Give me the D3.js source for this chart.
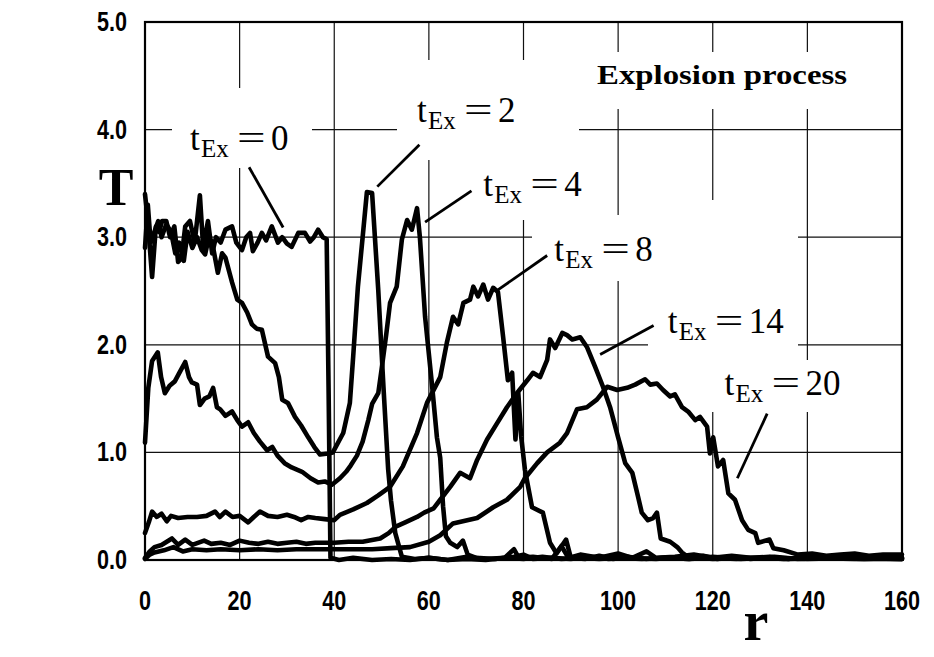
<!DOCTYPE html>
<html>
<head>
    <meta charset="UTF-8">
    <title>Explosion process</title>
    <style>
        body { margin: 0; padding: 0; background: #fff; }
        svg { display: block; }
        .grid line { stroke: #111; stroke-width: 1.2; }
        .tick { font-family: "Liberation Sans", Arial, sans-serif; font-weight: bold; font-size: 27px; fill: #000; }
        .serif { font-family: "Liberation Serif", "Times New Roman", serif; fill: #000; }
    </style>
    <script src="https://d3js.org/d3.v7.min.js"></script>
</head>
<body>
<div id="chart"></div>
<script>
    // r ticks and T ticks
    var rTicks = [0, 20, 40, 60, 80, 100, 120, 140, 160];
    var tTicks = [0, 1, 2, 3, 4, 5];

    // series, [r, T]
    var tEx0 = [[0,3.4],[0.5,3.2],[1.5,2.63],[2.3,3.1],[3,3.05],[3.6,3.15],[4.5,3.15],[5.3,3.0],[6.2,3.1],[7,2.77],[7.7,2.8],
        [8.5,3.1],[9.5,3.15],[10.5,2.95],[11.6,3.39],[12.3,2.9],[13.3,3.15],[14.2,2.85],[15,3.0],[16,2.95],[17,3.07],
        [18.4,3.1],[19.3,2.95],[20.5,2.88],[21.4,3.0],[22.2,3.04],[22.8,2.87],[23.8,2.95],[24.7,3.04],[25.6,2.97],
        [26.8,3.1],[28.1,2.95],[29,3.0],[30,2.94],[31,2.91],[32.4,3.04],[33.8,3.04],[34.9,2.96],[35.7,3.0],[36.6,3.07],
        [37.6,3.0],[38.4,2.98],[38.8,1.6],[39.2,0.02],[41,0],[44,0.02],[48,0],[52,0.01],[56,0],[60,0.02],[64,0],
        [68,0.01],[72,0],[76,0.02],[78,0.1],[79,0.02],[82,0.03],[86,0.01],[88,0.13],[89.5,0.02],[92,0.05],[96,0.02],
        [100,0.06],[103,0.02],[106,0.08],[108,0.02],[112,0.03],[116,0.05],[120,0.02],[124,0.04],[128,0.02],[132,0.03],
        [136,0.01],[140,0.03],[144,0.02],[148,0.03],[152,0.02],[156,0.03],[160,0.02]];

    var tEx2 = [[0,2.9],[0.6,3.3],[1.2,2.95],[2,3.05],[2.8,3.15],[3.5,3.0],[4.5,3.12],[5.5,3.05],[6.4,2.85],[7.2,2.95],
        [8.2,2.78],[9,3.05],[10,2.9],[11,3.0],[12,2.88],[12.7,2.84],[13.5,3.0],[14.2,2.95],[15.4,2.67],[16.3,2.85],
        [17,2.81],[18.4,2.58],[19.5,2.42],[20.5,2.39],[21.6,2.3],[22.6,2.19],[23.6,2.15],[24.7,2.14],[26,1.89],
        [27.5,1.83],[28.3,1.7],[29,1.49],[30.2,1.46],[31.7,1.33],[33,1.25],[34.5,1.14],[35.8,1.05],[37,0.98],
        [38.7,0.99],[39.7,1.0],[41.9,1.18],[43.3,1.46],[44,1.89],[45,2.54],[46,3.0],[46.9,3.42],[48,3.41],[49.3,2.51],
        [50.4,1.61],[51.4,0.84],[52,0.55],[52.9,0.25],[54.3,0.03],[57,0.01],[60,0.02],[64,0],[68,0.03],[72,0.01],
        [76,0.02],[80,0.01],[84,0.03],[88,0.01],[92,0.02],[96,0.01],[100,0.02],[105,0.01],[110,0.02],[115,0.01],
        [120,0.02],[125,0.01],[130,0.02],[135,0.01],[140,0.02],[150,0.01],[160,0.01]];

    var tEx4 = [[0,1.09],[0.7,1.6],[1.5,1.85],[2.7,1.93],[3.4,1.7],[4.2,1.55],[5.2,1.62],[6.3,1.66],[7.4,1.75],
        [8.5,1.84],[9.3,1.7],[9.9,1.65],[11,1.63],[11.6,1.44],[12.6,1.5],[13.6,1.52],[14.4,1.6],[15.2,1.42],[15.9,1.40],
        [17,1.34],[18.4,1.38],[19.5,1.3],[20.5,1.24],[21.8,1.28],[23,1.18],[24.3,1.1],[25.8,1.02],[26.9,1.05],[28,0.97],
        [29.5,0.9],[31,0.86],[33.2,0.82],[35,0.76],[36.6,0.72],[38,0.73],[39.5,0.7],[41.2,0.76],[42.5,0.82],[43.5,0.88],
        [44.8,0.97],[46,1.1],[47.2,1.3],[48,1.45],[49.3,1.55],[50,1.77],[51,2.1],[51.8,2.39],[53.2,2.54],[54.3,2.98],
        [55.4,3.16],[56.4,3.07],[57.5,3.27],[58.1,3.0],[59.2,2.26],[60.7,1.61],[61.7,1.14],[62.4,0.95],[63,0.5],
        [63.6,0.22],[64.5,0.16],[66,0.12],[67.2,0.18],[68.2,0.05],[70,0.02],[74,0.01],[78,0.03],[80,0.05],[82,0.01],
        [86,0.02],[90,0.01],[94,0.03],[98,0.01],[102,0.02],[108,0.01],[114,0.03],[120,0.01],[128,0.02],[136,0.01],
        [146,0.02],[160,0.01]];

    var tEx8 = [[0,0.25],[0.8,0.35],[1.5,0.45],[2.5,0.4],[3.5,0.43],[4.6,0.36],[5.5,0.41],[7,0.39],[9,0.4],[11,0.4],
        [13,0.41],[14.8,0.45],[15.8,0.4],[17,0.45],[18.5,0.4],[20,0.41],[21.8,0.35],[23,0.4],[24.3,0.45],[26,0.41],
        [28,0.4],[30,0.42],[31.5,0.4],[33,0.37],[34.5,0.4],[36,0.39],[38,0.38],[40,0.37],[41.2,0.42],[44,0.47],
        [46.9,0.53],[49.3,0.6],[51.8,0.68],[54.5,0.87],[57.5,1.18],[59.6,1.46],[62.4,1.7],[63.8,2.02],[65.1,2.26],
        [66.2,2.19],[67.3,2.39],[68.7,2.42],[69.4,2.54],[70.4,2.45],[71.5,2.56],[72.5,2.42],[73.6,2.53],[74.6,2.49],
        [75.7,2.07],[76.7,1.67],[77.6,1.74],[78.3,1.12],[78.9,1.55],[79.5,1.15],[80.3,0.84],[81.8,0.49],[84.1,0.44],
        [85.6,0.16],[87,0.06],[89,0.19],[90,0.02],[93,0.01],[96,0.04],[99,0.01],[102,0.03],[106,0.01],[110,0.02],
        [115,0.01],[120,0.03],[126,0.01],[132,0.02],[140,0.01],[150,0.02],[160,0.01]];

    var tEx14 = [[0,0.02],[1,0.08],[2,0.12],[3.5,0.14],[5.7,0.2],[7,0.14],[8.5,0.19],[10,0.14],[12.5,0.18],[14,0.15],
        [16,0.16],[18,0.14],[20,0.18],[22,0.16],[24,0.15],[26,0.17],[28,0.15],[30,0.16],[32,0.17],[34,0.15],[36,0.16],
        [38,0.16],[40,0.16],[43,0.17],[46,0.17],[49.7,0.2],[51.5,0.25],[53,0.31],[55,0.35],[57.5,0.4],[59,0.44],
        [61,0.48],[62.4,0.56],[64.5,0.68],[66.6,0.81],[68.7,0.76],[70.2,0.93],[72.3,1.12],[74.4,1.27],[76.5,1.42],
        [78.6,1.55],[80.8,1.67],[82,1.74],[83.5,1.7],[85,1.86],[85.6,2.05],[86.7,1.97],[88.2,2.11],[89.2,2.09],
        [90.3,2.05],[92,2.07],[93.4,1.98],[95.1,1.8],[96.8,1.61],[98.3,1.42],[100,1.14],[101.5,0.9],[103,0.81],
        [104.2,0.59],[105,0.44],[106.3,0.37],[107.4,0.39],[108.2,0.44],[109,0.2],[111,0.17],[112.5,0.12],[113.5,0.07],
        [115,0.02],[118,0.04],[121,0.01],[124,0.03],[128,0.01],[133,0.03],[138,0.01],[145,0.02],[152,0.01],[160,0.02]];

    var tEx20 = [[0,0.01],[1,0.05],[2,0.07],[4,0.09],[6,0.12],[8,0.08],[10,0.1],[13,0.09],[16,0.1],[20,0.09],
        [24,0.1],[28,0.09],[32,0.1],[36,0.1],[40,0.1],[44,0.1],[48,0.1],[52,0.11],[56,0.12],[60,0.17],[62.4,0.23],
        [65.1,0.34],[70.2,0.39],[73.6,0.49],[76.5,0.56],[79.3,0.68],[80.3,0.76],[82.9,0.9],[85,1.0],[87.7,1.09],
        [89.2,1.18],[91.3,1.4],[93.4,1.42],[95.5,1.49],[97.7,1.61],[99.8,1.58],[101.9,1.6],[103.6,1.63],[105.7,1.68],
        [106.8,1.63],[108.2,1.64],[109.5,1.58],[111,1.52],[112,1.54],[113.5,1.42],[114.8,1.38],[116.3,1.3],[117.3,1.33],
        [118.8,1.24],[119.4,0.99],[120.1,1.14],[121.1,0.87],[122.2,0.93],[123.3,0.62],[124.7,0.56],[126.2,0.37],
        [127.5,0.28],[129,0.25],[129.6,0.16],[132,0.19],[132.8,0.11],[135,0.09],[138,0.05],[141,0.06],[144,0.04],
        [147,0.05],[150,0.06],[153,0.04],[156,0.05],[160,0.05]];

    var seriesNames = ["0", "2", "4", "8", "14", "20"];
    var seriesData = [tEx0, tEx2, tEx4, tEx8, tEx14, tEx20];

    // label anchor (r,T of text start), leader line ends in data units
    var labelPos = [[9.5, 3.81], [57.5, 4.07], [71.5, 3.38], [86.5, 2.78], [110.5, 2.11], [122.5, 1.53]];
    var leaderFrom = [[22, 3.65], [58, 3.86], [69, 3.43], [85, 2.83], [107.5, 2.18], [131.5, 1.36]];
    var leaderTo = [[29.2, 3.09], [49.1, 3.47], [59.2, 3.14], [74.6, 2.51], [96.2, 1.91], [125.2, 0.76]];

    var W = 934, H = 657;
    var x = d3.scaleLinear().domain([0, 160]).range([145, 902]);
    var y = d3.scaleLinear().domain([0, 5]).range([560, 22]);

    var svg = d3.select("#chart").append("svg")
        .attr("width", W)
        .attr("height", H);

    svg.append("rect").attr("width", W).attr("height", H).attr("fill", "#fff");

    // grid
    var grid = svg.append("g").attr("class", "grid");
    grid.selectAll(".gx").data(rTicks.slice(1, -1)).enter().append("line")
        .attr("x1", function(d) { return x(d); }).attr("x2", function(d) { return x(d); })
        .attr("y1", y(0)).attr("y2", y(5));
    grid.selectAll(".gy").data(tTicks.slice(1, -1)).enter().append("line")
        .attr("x1", x(0)).attr("x2", x(160))
        .attr("y1", function(d) { return y(d); }).attr("y2", function(d) { return y(d); });

    // white patches that break the grid behind the labels (pixel boxes)
    var patches = [[172, 88, 140, 80], [397, 60, 182, 100], [470, 160, 110, 60], [532, 215, 196, 66],
        [648, 200, 150, 160], [706, 360, 150, 52], [590, 52, 272, 57]];
    svg.selectAll(".patch").data(patches).enter().append("rect")
        .attr("x", function(d) { return d[0]; }).attr("y", function(d) { return d[1]; })
        .attr("width", function(d) { return d[2]; }).attr("height", function(d) { return d[3]; })
        .attr("fill", "#fff");

    // frame
    svg.append("rect")
        .attr("x", x(0)).attr("y", y(5))
        .attr("width", x(160) - x(0)).attr("height", y(0) - y(5))
        .attr("fill", "none").attr("stroke", "#000").attr("stroke-width", 2.2);

    // curves
    var line = d3.line()
        .x(function(d) { return x(d[0]); })
        .y(function(d) { return y(d[1]); });

    svg.selectAll(".curve").data(seriesData).enter().append("path")
        .attr("class", "curve")
        .attr("fill", "none")
        .attr("stroke", "#000")
        .attr("stroke-width", 4.6)
        .attr("stroke-linejoin", "round")
        .attr("stroke-linecap", "round")
        .attr("d", line);

    // tick labels
    svg.selectAll(".ylab").data(tTicks).enter().append("text")
        .attr("class", "tick")
        .attr("text-anchor", "end")
        .attr("transform", function(d) { return "translate(127," + (y(d) + 9) + ") scale(0.8,1)"; })
        .text(function(d) { return d.toFixed(1); });

    svg.selectAll(".xlab").data(rTicks).enter().append("text")
        .attr("class", "tick")
        .attr("text-anchor", "middle")
        .attr("transform", function(d) { return "translate(" + x(d) + ",610) scale(0.8,1)"; })
        .text(function(d) { return d; });

    // axis titles
    svg.append("text").attr("class", "serif")
        .attr("x", 116).attr("y", 205)
        .attr("text-anchor", "middle")
        .attr("font-size", 52).attr("font-weight", "bold")
        .text("T");
    svg.append("text").attr("class", "serif")
        .attr("x", 756).attr("y", 640)
        .attr("text-anchor", "middle")
        .attr("font-size", 56).attr("font-weight", "bold")
        .text("r");

    svg.append("text").attr("class", "serif")
        .attr("x", 597).attr("y", 84)
        .attr("font-size", 27).attr("font-weight", "bold")
        .attr("textLength", 250).attr("lengthAdjust", "spacingAndGlyphs")
        .text("Explosion process");

    // leader lines
    svg.selectAll(".leader").data(seriesNames).enter().append("line")
        .attr("stroke", "#000")
        .attr("stroke-width", 2.8)
        .attr("x1", function(d, i) { return x(leaderFrom[i][0]); })
        .attr("y1", function(d, i) { return y(leaderFrom[i][1]); })
        .attr("x2", function(d, i) { return x(leaderTo[i][0]); })
        .attr("y2", function(d, i) { return y(leaderTo[i][1]); });

    // curve labels: t_Ex = n
    var labs = svg.selectAll(".lab").data(seriesNames).enter().append("g")
        .attr("class", "serif")
        .attr("transform", function(d, i) {
            return "translate(" + x(labelPos[i][0]) + "," + y(labelPos[i][1]) + ")";
        });
    labs.append("text").attr("font-size", 35).text("t");
    labs.append("text").attr("x", 11).attr("y", 7).attr("font-size", 25).text("Ex");
    labs.append("text").attr("font-size", 35)
        .attr("transform", "translate(47,0) scale(1.45,1)").text("=");
    labs.append("text").attr("x", 81).attr("font-size", 35)
        .text(function(d) { return d; });
</script>
</body>
</html>
